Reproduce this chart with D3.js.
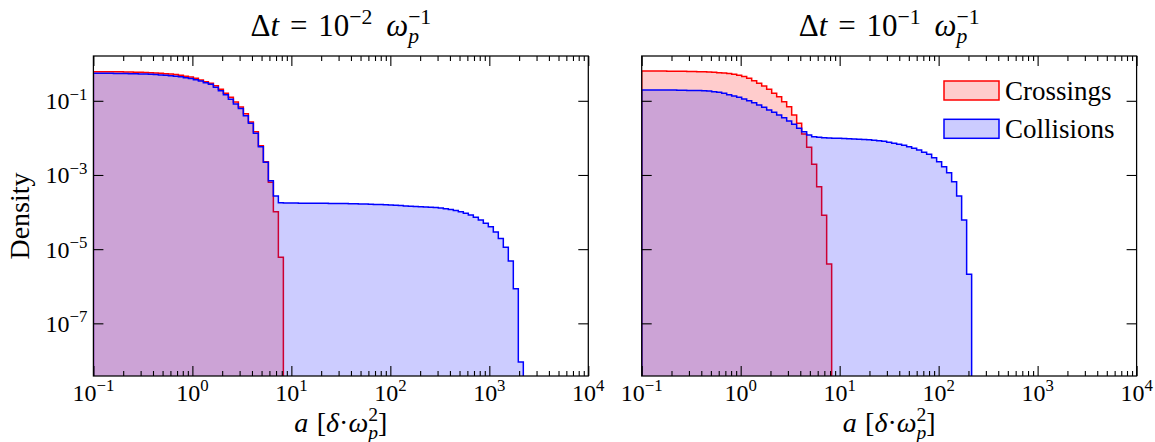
<!DOCTYPE html>
<html>
<head>
<meta charset="utf-8">
<script src="https://cdn.jsdelivr.net/npm/d3@7"></script>
<style>
  html, body { margin: 0; padding: 0; background: #fff; }
  svg text, svg tspan { font-family: "Liberation Serif", "Times New Roman", Tinos !important; }
</style>
</head>
<body>
<svg id="chart" width="1155" height="442" font-family="Liberation Serif"></svg>
<script>
// Histogram bins: 100 log-spaced edges from 1e-1 to 1e4 (99 bins)
const binCount = 99;
const binEdges = d3.range(binCount + 1).map(j => Math.pow(10, -1 + 5 * j / binCount));

// log10(density) per bin, starting at the first bin (a = 0.1)
// Δt = 1e-2
const crossingsFine = [
  -0.215, -0.215, -0.216, -0.217, -0.218, -0.220, -0.222, -0.225, -0.228, -0.232,
  -0.237, -0.243, -0.250, -0.258, -0.268, -0.280, -0.294, -0.310, -0.335, -0.360,
  -0.395, -0.440, -0.485, -0.528, -0.593, -0.690, -0.798, -0.906, -1.032, -1.167,
  -1.347, -1.571, -1.833, -2.210, -2.640, -3.197, -3.990, -5.220
];
const collisionsFine = [
  -0.258, -0.258, -0.259, -0.260, -0.261, -0.263, -0.265, -0.268, -0.271, -0.275,
  -0.280, -0.286, -0.293, -0.301, -0.311, -0.323, -0.337, -0.353, -0.376, -0.400,
  -0.432, -0.466, -0.510, -0.555, -0.636, -0.728, -0.836, -0.960, -1.086, -1.210,
  -1.400, -1.606, -1.876, -2.237, -2.658, -3.154, -3.566, -3.747, -3.755, -3.757,
  -3.758, -3.759, -3.760, -3.761, -3.762, -3.763, -3.764, -3.766, -3.768, -3.770,
  -3.772, -3.775, -3.778, -3.781, -3.785, -3.789, -3.794, -3.799, -3.805, -3.811,
  -3.818, -3.826, -3.834, -3.842, -3.850, -3.855, -3.860, -3.868, -3.878, -3.892,
  -3.910, -3.930, -3.955, -3.990, -4.033, -4.078, -4.140, -4.213, -4.300, -4.393,
  -4.536, -4.710, -4.950, -5.318, -6.070, -8.040
];
// Δt = 1e-1
const crossingsCoarse = [
  -0.197, -0.197, -0.197, -0.198, -0.199, -0.200, -0.201, -0.203, -0.205, -0.208,
  -0.211, -0.215, -0.220, -0.226, -0.233, -0.242, -0.252, -0.265, -0.283, -0.308,
  -0.345, -0.395, -0.458, -0.528, -0.600, -0.690, -0.798, -0.889, -1.024, -1.159,
  -1.383, -1.606, -1.895, -2.253, -2.710, -3.315, -4.086, -5.400
];
const collisionsCoarse = [
  -0.709, -0.709, -0.709, -0.710, -0.710, -0.711, -0.712, -0.714, -0.716, -0.719,
  -0.720, -0.723, -0.728, -0.736, -0.754, -0.772, -0.799, -0.835, -0.871, -0.906,
  -0.951, -0.996, -1.050, -1.113, -1.176, -1.248, -1.311, -1.383, -1.455, -1.544,
  -1.634, -1.742, -1.832, -1.922, -1.967, -1.985, -1.998, -2.004, -2.008, -2.012,
  -2.016, -2.021, -2.027, -2.034, -2.042, -2.051, -2.061, -2.075, -2.093, -2.119,
  -2.146, -2.173, -2.200, -2.236, -2.281, -2.326, -2.389, -2.443, -2.533, -2.641,
  -2.775, -2.937, -3.180, -3.566, -4.213, -5.677
];

const xMajorTicks = [1e-1, 1e0, 1e1, 1e2, 1e3, 1e4];
const xTickExponents = ["−1", "0", "1", "2", "3", "4"];
const yMajorTicks = [1e-1, 1e-3, 1e-5, 1e-7];
const yTickExponents = ["−1", "−3", "−5", "−7"];
const timeStepExponents = ["−2", "−1"];
const seriesNames = ["Crossings", "Collisions"];
const seriesColors = ["#ff0000", "#0000ff"];

// ---- layout ----
const svg = d3.select("#chart");
const plotTop = 56, plotH = 320, plotW = 494.9;
const panelLefts = [93.4, 641.7];
const TICK_FS = 24, LABEL_FS = 28, TITLE_FS = 31, LEGEND_FS = 27;

const x = d3.scaleLog().domain([1e-1, 1e4]).range([0, plotW]);
const y = d3.scaleLog().domain([Math.pow(10, -8.42), Math.pow(10, 0.208)]).range([plotH, 0]);

const xMinorTicks = [];
for (let e = -1; e < 4; e++) for (let m = 2; m <= 9; m++) xMinorTicks.push(m * Math.pow(10, e));

// Lay out a small math expression as one text element made of positioned tspans
function mathText(parent, parts, size, anchor) {
  const probe = svg.append("text").attr("visibility", "hidden");
  const placed = [];
  let cx = 0, lastStart = 0;
  parts.forEach(p => {
    if (p.gap) { cx += p.gap * size; return; }
    const script = p.sup || p.sub;
    const fs = script ? size * 0.7 : size;
    const dy = p.sup ? -0.4 * size : (p.sub ? 0.24 * size : 0);
    const x0 = p.over ? lastStart : cx;
    probe.attr("font-size", fs).attr("font-style", p.it ? "italic" : "normal").text(p.s);
    const w = probe.node().getComputedTextLength();
    placed.push({ s: p.s, x: x0, y: dy, fs, it: p.it });
    if (p.over) cx = Math.max(cx, x0 + w);
    else { lastStart = x0; cx = x0 + w; }
  });
  probe.remove();
  const shift = anchor === "middle" ? -cx / 2 : (anchor === "end" ? -cx : 0);
  const t = parent.append("text").attr("fill", "#000");
  placed.forEach(q => {
    t.append("tspan")
      .attr("x", q.x + shift).attr("y", q.y)
      .attr("font-size", q.fs)
      .attr("font-style", q.it ? "italic" : "normal")
      .text(q.s);
  });
  return t;
}

function stepData(vals) {
  const pts = vals.map((v, i) => [binEdges[i], Math.pow(10, v)]);
  pts.push([binEdges[vals.length], Math.pow(10, vals[vals.length - 1])]);
  return pts;
}

const area = d3.area().curve(d3.curveStepAfter)
  .x(d => x(d[0])).y0(plotH).y1(d => y(d[1]));
const outline = d3.line().curve(d3.curveStepAfter)
  .x(d => x(d[0])).y(d => d[1] === null ? plotH : y(d[1]));

const panels = [
  { left: panelLefts[0], series: [crossingsFine, collisionsFine], exp: timeStepExponents[0], yLabels: true, legend: false },
  { left: panelLefts[1], series: [crossingsCoarse, collisionsCoarse], exp: timeStepExponents[1], yLabels: false, legend: true }
];

panels.forEach((pn, pi) => {
  const g = svg.append("g").attr("transform", `translate(${pn.left},${plotTop})`);

  const clipId = "clip" + pi;
  g.append("clipPath").attr("id", clipId)
    .append("rect").attr("width", plotW).attr("height", plotH);

  const marks = g.append("g").attr("clip-path", `url(#${clipId})`);
  pn.series.forEach((vals, si) => {
    const pts = stepData(vals);
    marks.append("path")
      .attr("d", area(pts))
      .attr("fill", seriesColors[si]).attr("fill-opacity", 0.2)
      .attr("stroke", "none");
    const linePts = [[binEdges[0], null], ...pts, [binEdges[vals.length], null]];
    marks.append("path")
      .attr("d", outline(linePts))
      .attr("fill", "none")
      .attr("stroke", seriesColors[si]).attr("stroke-width", 1.5)
      .attr("stroke-linejoin", "miter");
  });

  // inward ticks on all four sides
  const tickStyle = sel => {
    sel.select(".domain").remove();
    sel.selectAll(".tick line").attr("stroke", "#000").attr("stroke-width", 1.1);
    sel.selectAll(".tick text").remove();
  };
  g.append("g").attr("transform", `translate(0,${plotH})`)
    .call(d3.axisBottom(x).tickValues(xMajorTicks).tickSize(-10).tickFormat(""))
    .call(tickStyle);
  g.append("g").attr("transform", `translate(0,${plotH})`)
    .call(d3.axisBottom(x).tickValues(xMinorTicks).tickSize(-5).tickFormat(""))
    .call(tickStyle);
  g.append("g")
    .call(d3.axisTop(x).tickValues(xMajorTicks).tickSize(-10).tickFormat(""))
    .call(tickStyle);
  g.append("g")
    .call(d3.axisTop(x).tickValues(xMinorTicks).tickSize(-5).tickFormat(""))
    .call(tickStyle);
  g.append("g")
    .call(d3.axisLeft(y).tickValues(yMajorTicks).tickSize(-10).tickFormat(""))
    .call(tickStyle);
  g.append("g").attr("transform", `translate(${plotW},0)`)
    .call(d3.axisRight(y).tickValues(yMajorTicks).tickSize(-10).tickFormat(""))
    .call(tickStyle);

  // frame
  g.append("rect").attr("width", plotW).attr("height", plotH)
    .attr("fill", "none").attr("stroke", "#000").attr("stroke-width", 1.25);

  // x tick labels
  xMajorTicks.forEach((v, i) => {
    mathText(g, [{ s: "10" }, { s: xTickExponents[i], sup: true }], TICK_FS, "middle")
      .attr("transform", `translate(${x(v)},${plotH + 24.7})`);
  });
  // y tick labels
  if (pn.yLabels) {
    yMajorTicks.forEach((v, i) => {
      mathText(g, [{ s: "10" }, { s: yTickExponents[i], sup: true }], TICK_FS, "end")
        .attr("transform", `translate(-6,${y(v) + 8.5})`);
    });
    g.append("text")
      .attr("transform", `translate(-64.5,${plotH / 2}) rotate(-90)`)
      .attr("text-anchor", "middle")
      .attr("font-size", LABEL_FS)
      .text("Density");
  }

  // x axis label: a [δ·ω_p^2]
  mathText(g, [
    { s: "a", it: true }, { gap: 0.3 }, { s: "[" }, { s: "δ", it: true }, { s: "·" },
    { s: "ω", it: true }, { s: "p", it: true, sub: true }, { s: "2", sup: true, over: true }, { s: "]" }
  ], LABEL_FS, "middle").attr("transform", `translate(${plotW / 2},${plotH + 56})`);

  // title: Δt = 10^k ω_p^-1
  mathText(g, [
    { s: "Δ" }, { s: "t", it: true }, { gap: 0.35 }, { s: "=" }, { gap: 0.35 },
    { s: "10" }, { s: pn.exp, sup: true }, { gap: 0.45 },
    { s: "ω", it: true }, { s: "p", it: true, sub: true }, { s: "−1", sup: true, over: true }
  ], TITLE_FS, "middle").attr("transform", `translate(${plotW / 2},-20)`);

  // legend
  if (pn.legend) {
    const lg = g.append("g").attr("transform", "translate(302.3,25)");
    seriesNames.forEach((name, si) => {
      const row = lg.append("g").attr("transform", `translate(0,${si * 38.3})`);
      row.append("rect").attr("width", 55).attr("height", 19)
        .attr("fill", seriesColors[si]).attr("fill-opacity", 0.2)
        .attr("stroke", seriesColors[si]).attr("stroke-width", 1.5);
      row.append("text").attr("x", 61).attr("y", 18.5)
        .attr("font-size", LEGEND_FS).text(name);
    });
  }
});
</script>
</body>
</html>
